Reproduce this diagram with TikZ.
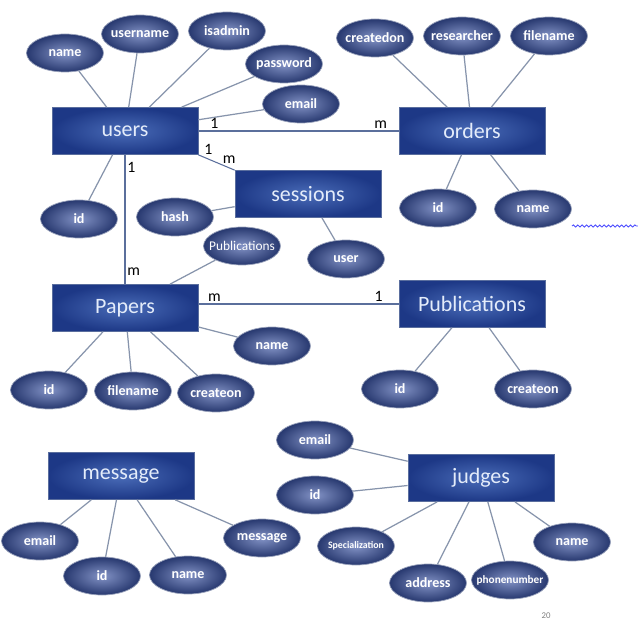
\documentclass[tikz,border=0pt]{standalone}
\usepackage{fontspec}
\setmainfont{Carlito}
\usetikzlibrary{shapes.geometric,positioning,decorations.pathmorphing}

\definecolor{entdark}{HTML}{1D3886}
\definecolor{entlight}{HTML}{4A6CB8}
\definecolor{entedge}{HTML}{5A6E9E}
\definecolor{enttext}{HTML}{E4ECFA}
\definecolor{attdark}{HTML}{27386F}
\definecolor{attlight}{HTML}{8393C6}
\definecolor{attedge}{HTML}{9AA3BC}
\definecolor{linegray}{HTML}{8794AC}
\definecolor{relblue}{HTML}{5B6F9C}

% keep the ellipse size fixed when the text is wide
\newcommand{\attrtext}[1]{\makebox[0pt]{#1}}

\tikzset{%
  % Specifications for style of nodes:
         entity/.style = {rectangle, draw = entedge, minimum width=2.92cm, minimum height=0.94cm, inner color=entlight, outer color=entdark, text=enttext, font=\fontsize{12.5}{14}\selectfont},
         attr/.style = {ellipse, draw = attedge, minimum width=1.54cm, minimum height=0.76cm, inner sep=0pt, inner color=attlight, outer color=attdark, text=white, font=\fontsize{8}{9}\selectfont\bfseries},
         card/.style = {font=\fontsize{9}{10}\selectfont, inner sep=1pt},
         link/.style = {draw = linegray, line width=0.7pt},
         rel/.style = {draw = relblue, line width=0.6pt},
}

\begin{document}
\begin{tikzpicture}[x=0.02cm, y=-0.02cm]
    \useasboundingbox[fill=white] (0,0) rectangle (638,621);

    % Draw entities
    \node (users)   [entity] at (125,131) {users};
    \node (orders)  [entity] at (472,131) {orders};
    \node (sessions)[entity] at (308,194) {sessions};
    \node (papers)  [entity] at (125,308) {Papers};
    \node (pubs)    [entity] at (472,304) {Publications};
    \node (message) [entity] at (121,476) {message};
    \node (judges)  [entity] at (481,478) {judges};

    % Draw attributes
    \node (uname)   [attr] at (65,53)   {name};
    \node (uuser)   [attr] at (140,34)  {\attrtext{username}};
    \node (uadmin)  [attr] at (227,31)  {\attrtext{isadmin}};
    \node (upass)   [attr] at (284,64)  {\attrtext{password}};
    \node (umail)   [attr] at (301,104) {email};
    \node (uid)     [attr] at (79,219)  {id};

    \node (ocreated)[attr] at (375,38)  {\attrtext{createdon}};
    \node (oresearch)[attr] at (462,36) {\attrtext{researcher}};
    \node (ofile)   [attr] at (549,36)  {\attrtext{filename}};
    \node (oid)     [attr] at (438,208) {id};
    \node (oname)   [attr] at (533,209) {name};

    \node (shash)   [attr] at (175,217) {hash};
    \node (suser)   [attr] at (346,259) {user};

    \node (ppubs)   [attr, font=\fontsize{7.6}{9}\selectfont] at (242,246) {\attrtext{Publications}};
    \node (pid)     [attr] at (49,390)  {id};
    \node (pfile)   [attr] at (133,391) {\attrtext{filename}};
    \node (pcreate) [attr] at (216,393) {\attrtext{createon}};
    \node (pname)   [attr] at (272,346) {name};

    \node (bid)     [attr] at (400,389) {id};
    \node (bcreate) [attr] at (533,389) {\attrtext{createon}};

    \node (memail)  [attr] at (40,541)  {email};
    \node (mid)     [attr] at (102,576) {id};
    \node (mname)   [attr] at (188,575) {name};
    \node (mtext)   [attr] at (262,538) {\attrtext{message}};

    \node (jemail)  [attr] at (315,440) {email};
    \node (jid)     [attr] at (315,495) {id};
    \node (jspec)   [attr, font=\fontsize{5.6}{6}\selectfont\bfseries] at (356,546) {\attrtext{Specialization}};
    \node (jaddr)   [attr] at (428,583) {\attrtext{address}};
    \node (jphone)  [attr, font=\fontsize{6.4}{7}\selectfont\bfseries] at (510,580) {\attrtext{phonenumber}};
    \node (jname)   [attr] at (572,542) {name};

    % Draw attribute lines
    \foreach \a in {uname,uuser,uadmin,upass,umail,uid}
        \draw[link] (users) -- (\a);
    \foreach \a in {ocreated,oresearch,ofile,oid,oname}
        \draw[link] (orders) -- (\a);
    \foreach \a in {shash,suser}
        \draw[link] (sessions) -- (\a);
    \foreach \a in {ppubs,pid,pfile,pcreate,pname}
        \draw[link] (papers) -- (\a);
    \foreach \a in {bid,bcreate}
        \draw[link] (pubs) -- (\a);
    \foreach \a in {memail,mid,mname,mtext}
        \draw[link] (message) -- (\a);
    \foreach \a in {jemail,jid,jspec,jaddr,jphone,jname}
        \draw[link] (judges) -- (\a);

    % Draw relationships
    \draw[rel] (users) -- node[card, pos=0.08, above] {1} node[card, pos=0.91, above] {m} (orders);
    \draw[rel] (users.south east) -- node[card, pos=0.1, above right=0pt] {1} node[card, pos=0.85, above=1pt] {m} (sessions.north west);
    \draw[rel] (users) -- node[card, pos=0.1, right] {1} node[card, pos=0.9, right] {m} (papers);
    \draw[rel] (papers.east |- pubs.west) -- node[card, pos=0.08, above] {m} node[card, pos=0.9, above] {1} (pubs.west);

    % spell check mark and page number
    \coordinate (sq1) at (572,226);
    \coordinate (sq2) at (638,226);
    \draw[blue!70, line width=0.5pt, decorate, decoration={snake, amplitude=0.6pt, segment length=2.5pt}] (sq1) -- (sq2);
    \node (page) [text=gray, font=\fontsize{5}{6}\selectfont] at (546,616) {20};

\end{tikzpicture}
\end{document}
